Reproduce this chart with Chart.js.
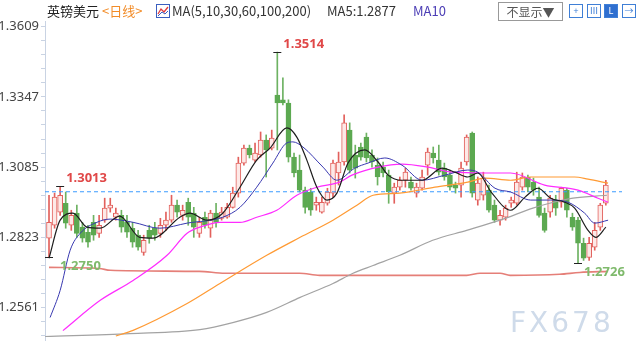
<!DOCTYPE html>
<html>
<head>
<meta charset="utf-8">
<script src="https://cdn.jsdelivr.net/npm/chart.js@4.4.1/dist/chart.umd.min.js"></script>
<style>
  body { margin: 0; background: #fff; }
  #wrap { position: relative; width: 640px; height: 360px; overflow: hidden; font-family: "Noto Sans CJK SC", "Noto Sans", sans-serif; }
  #c { position: absolute; left: 0; top: 0; }
  .t { position: absolute; top: 3px; font-size: 13px; white-space: nowrap; line-height: 16px; }
  .btn { position: absolute; top: 4px; width: 12px; height: 12px; border: 1px solid #3f7fd6; color: #3f7fd6; font-size: 9px; line-height: 12px; text-align: center; }
  #sel { position: absolute; left: 498px; top: 2px; width: 63px; height: 17px; border: 1px solid #999; font-size: 12px; line-height: 17px; color: #555; text-align: center; }
  #wm { position: absolute; left: 510px; top: 306px; font-family: "DejaVu Sans", sans-serif; font-size: 28px; letter-spacing: 3px; color: #cfdbea; }
</style>
</head>
<body>
<div id="wrap">
  <canvas id="c" width="640" height="360"></canvas>
  <div class="t" style="left:47px;color:#222">英镑美元</div>
  <div class="t" style="left:102px;color:#f28c28">&lt;日线&gt;</div>
  <svg style="position:absolute;left:156px;top:4px" width="14" height="14"><rect x="0.5" y="0.5" width="13" height="13" fill="#fff" stroke="#3b5fc0"/><polyline points="2,10 5,5 8,8 12,3" fill="none" stroke="#e23b3b" stroke-width="1.3"/><polyline points="2,12 6,8 9,10 12,7" fill="none" stroke="#3b5fc0" stroke-width="1"/></svg>
  <div class="t" style="left:172px;color:#333">MA(5,10,30,60,100,200)</div>
  <div class="t" style="left:327px;color:#333">MA5:1.2877</div>
  <div class="t" style="left:413px;color:#4b3db5">MA10</div>
  <div id="sel">不显示▼</div>
  <div class="btn" style="left:569px">+</div>
  <div class="btn" style="left:587px">Ⅲ</div>
  <div class="btn" style="left:604px;background:#2f6fd0;color:#fff">L</div>
  <div class="btn" style="left:622px">→</div>
  <div id="wm">FX678</div>
</div>
<script>
// daily candles, GBP/USD
const openVals = [1.2820,1.2868,1.2917,1.2950,1.2868,1.2913,1.2861,1.2842,1.2879,1.2838,
  1.2887,1.2932,1.2898,1.2905,1.2879,1.2857,1.2831,1.2767,1.2849,1.2857,
  1.2838,1.2868,1.2887,1.2943,1.2905,1.2954,1.2913,1.2838,1.2898,1.2857,
  1.2913,1.2894,1.2898,1.2935,1.2988,1.3100,1.3156,1.3111,1.3130,1.3186,
  1.3156,1.3354,1.3336,1.3324,1.3122,1.3074,1.2999,1.2992,1.2943,1.2917,
  1.2950,1.2988,1.3063,1.3104,1.3223,1.3130,1.3160,1.3197,1.3130,1.3092,
  1.3085,1.3055,1.2988,1.3010,1.3036,1.3029,1.2988,1.3006,1.3092,1.3137,
  1.3111,1.3081,1.3055,1.3018,1.3018,1.3104,1.3212,1.2962,1.2980,1.2999,
  1.2943,1.2887,1.2898,1.2950,1.2950,1.3010,1.3048,1.3029,1.2973,1.2913,
  1.2917,1.2962,1.2954,1.2999,1.2898,1.2887,1.2801,1.2748,1.2786,1.2861,
  1.2950];
const highVals = [1.2980,1.2988,1.3013,1.2992,1.2924,1.2943,1.2879,1.2868,1.2905,1.2905,
  1.2969,1.2969,1.2932,1.2924,1.2905,1.2879,1.2849,1.2831,1.2868,1.2879,
  1.2894,1.2917,1.2980,1.2962,1.2943,1.2969,1.2935,1.2898,1.2917,1.2924,
  1.2950,1.2935,1.2950,1.3010,1.3122,1.3167,1.3167,1.3175,1.3216,1.3205,
  1.3223,1.3514,1.3418,1.3336,1.3137,1.3130,1.3010,1.3006,1.2973,1.2973,
  1.3006,1.3111,1.3141,1.3280,1.3250,1.3167,1.3175,1.3212,1.3149,1.3119,
  1.3104,1.3074,1.3025,1.3048,1.3081,1.3048,1.3025,1.3074,1.3156,1.3160,
  1.3167,1.3100,1.3074,1.3029,1.3104,1.3205,1.3216,1.3048,1.3066,1.3018,
  1.2962,1.2924,1.2943,1.2973,1.3066,1.3063,1.3055,1.3044,1.3010,1.2932,
  1.2980,1.2980,1.3010,1.3006,1.2913,1.2898,1.2820,1.2823,1.2879,1.2950,
  1.3036];
const lowVals = [1.2750,1.2857,1.2905,1.2857,1.2849,1.2823,1.2805,1.2786,1.2812,1.2823,
  1.2879,1.2917,1.2887,1.2842,1.2823,1.2786,1.2775,1.2756,1.2801,1.2812,
  1.2823,1.2849,1.2879,1.2898,1.2887,1.2868,1.2823,1.2823,1.2857,1.2823,
  1.2861,1.2887,1.2894,1.2932,1.2973,1.3092,1.3119,1.3104,1.3122,1.3048,
  1.3149,1.3149,1.3317,1.3104,1.3048,1.2992,1.2913,1.2905,1.2924,1.2913,
  1.2943,1.2973,1.3018,1.3092,1.3063,1.3044,1.3111,1.3104,1.3085,1.3018,
  1.3048,1.2950,1.2950,1.2999,1.3010,1.2999,1.2973,1.2999,1.3055,1.3100,
  1.3055,1.3036,1.2999,1.2988,1.2973,1.3092,1.2973,1.2943,1.2962,1.2917,
  1.2879,1.2868,1.2887,1.2935,1.2943,1.2999,1.2992,1.2980,1.2898,1.2842,
  1.2898,1.2905,1.2935,1.2898,1.2849,1.2726,1.2737,1.2737,1.2775,1.2849,
  1.2943];
const closeVals = [1.2879,1.2973,1.2980,1.2876,1.2905,1.2838,1.2820,1.2805,1.2831,1.2868,
  1.2932,1.2943,1.2913,1.2861,1.2842,1.2805,1.2786,1.2812,1.2820,1.2831,
  1.2868,1.2887,1.2943,1.2917,1.2924,1.2898,1.2861,1.2879,1.2868,1.2913,
  1.2879,1.2917,1.2935,1.2988,1.3100,1.3156,1.3130,1.3137,1.3186,1.3149,
  1.3193,1.3324,1.3324,1.3122,1.3063,1.2999,1.2935,1.2924,1.2954,1.2954,
  1.2992,1.3100,1.3104,1.3250,1.3074,1.3081,1.3122,1.3119,1.3104,1.3048,
  1.3063,1.2992,1.3010,1.3036,1.3066,1.3006,1.3010,1.3048,1.3141,1.3119,
  1.3066,1.3048,1.3010,1.3006,1.3081,1.3197,1.2988,1.3025,1.3044,1.2924,
  1.2887,1.2905,1.2932,1.2962,1.3029,1.3048,1.3010,1.2999,1.2905,1.2849,
  1.2969,1.2932,1.3006,1.2924,1.2861,1.2801,1.2745,1.2801,1.2849,1.2943,
  1.3018];

// moving averages: [candle index, value]
const ma5 = [[0,1.2745],[2,1.2887],[4.3,1.2913],[6.8,1.2861],[9.2,1.2857],[12.7,1.2902],[16.3,1.2823],
  [18.7,1.2820],[23.5,1.2898],[25.3,1.2913],[28.4,1.2887],[31.2,1.2913],[34.3,1.3010],[37.3,1.3111],
  [39.7,1.3156],[42.7,1.3231],[44.5,1.3197],[46.3,1.3111],[48.1,1.3010],[49.9,1.2962],[51.7,1.2988],
  [53.7,1.3100],[56.7,1.3149],[59.1,1.3104],[60.9,1.3055],[63.4,1.3036],[67,1.3036],[70.6,1.3081],
  [72.9,1.3066],[75.2,1.3048],[77,1.3063],[79.4,1.2992],[82.9,1.2924],[85.5,1.2973],[87.8,1.3006],
  [90.1,1.2969],[92.6,1.2954],[94.4,1.2932],[96.8,1.2849],[98.2,1.2823],[100,1.2861]];
const ma10 = [[0.2,1.2524],[2,1.2625],[3.8,1.2775],[5.6,1.2838],[8.6,1.2879],[11,1.2891],[15.1,1.2879],
  [19.9,1.2857],[24.8,1.2876],[31.2,1.2898],[34.3,1.2935],[37.3,1.3010],[40.2,1.3100],[42.7,1.3175],
  [43.8,1.3179],[45.6,1.3160],[49.2,1.3085],[51.7,1.3036],[54.9,1.3081],[57.3,1.3100],[60.3,1.3119],
  [63.4,1.3092],[67,1.3036],[71.1,1.3055],[75.2,1.3074],[77,1.3066],[80.1,1.3006],[82.9,1.2992],
  [86.5,1.2962],[90.1,1.2962],[93.2,1.2954],[96.2,1.2913],[98,1.2876],[100.4,1.2887]];
const ma30 = [[2.5,1.2475],[9.2,1.2588],[15.1,1.2662],[21.2,1.2756],[24.8,1.2838],[27.1,1.2861],
  [30.7,1.2879],[34.3,1.2879],[37.3,1.2898],[40.9,1.2924],[44.5,1.2980],[48.1,1.3010],[52.2,1.3029],
  [54.4,1.3055],[59.1,1.3085],[63.4,1.3096],[68,1.3085],[72.4,1.3066],[78.3,1.3063],[82.9,1.3063],
  [89,1.3018],[95,1.2999],[98.6,1.2969],[100.4,1.2954]];
const ma60 = [[12,1.2455],[15.1,1.2476],[24.8,1.2576],[30.7,1.2651],[39.1,1.2756],[45.1,1.2823],
  [51,1.2887],[55.3,1.2943],[58.2,1.2980],[63,1.2988],[69.3,1.3010],[75.2,1.3029],[78.3,1.3044],
  [82.9,1.3036],[86.5,1.3048],[94.4,1.3048],[96.8,1.3040],[100.4,1.3025]];
const ma100 = [[-0.7,1.2453],[14.5,1.2464],[27.1,1.2479],[33,1.2505],[39.1,1.2543],[45.1,1.2599],
  [51,1.2651],[54.6,1.2689],[58.2,1.2718],[63,1.2756],[68.9,1.2812],[75,1.2849],[81,1.2887],
  [86.9,1.2932],[89.9,1.2950],[94.1,1.2969],[100.2,1.2980]];
const ma200 = [[0,1.2711],[9,1.2707],[11,1.2700],[27,1.2696],[31.6,1.2689],[45,1.2689],[48.6,1.2681],
  [75,1.2681],[77.4,1.2689],[81,1.2689],[82.8,1.2681],[91.7,1.2685],[95.3,1.2692],[100.4,1.2696]];

const lastPrice = 1.2993;
const yTicks = [1.2561, 1.2823, 1.3085, 1.3347, 1.3609];
// [index, value, text, kind]
const marks = [[2,1.3013,'1.3013','high'],[41,1.3514,'1.3514','high'],[0,1.2750,'1.2750','low'],[95,1.2726,'1.2726','low']];

const UP = '#e2605c', DOWN = '#5ca951';
const isUp = closeVals.map((c, i) => c >= openVals[i]);

// minor tick marks between the labelled ones
const step = (yTicks[1] - yTicks[0]) / 5;
const allTicks = [];
for (let v = yTicks[0] - 2 * step; v < 1.3630; v += step) allTicks.push(v);

function line(pts, color, w) {
  return {
    type: 'line',
    data: pts.map(p => ({ x: p[0], y: p[1] })),
    borderColor: color, borderWidth: w,
    pointRadius: 0, cubicInterpolationMode: 'monotone',
    order: 0
  };
}

const markPlugin = {
  id: 'marks',
  afterDatasetsDraw(chart) {
    const { ctx, scales: { x, y } } = chart;
    ctx.save();
    marks.forEach(m => {
      const px = x.getPixelForValue(m[0]);
      const py = y.getPixelForValue(m[1]);
      ctx.strokeStyle = '#222';
      ctx.lineWidth = 1;
      ctx.beginPath();
      ctx.moveTo(px - 4, Math.round(py) + 0.5);
      ctx.lineTo(px + 4, Math.round(py) + 0.5);
      ctx.stroke();
      ctx.font = 'bold 13px "Noto Sans", sans-serif';
      ctx.textBaseline = 'middle';
      if (m[3] === 'high') {
        ctx.fillStyle = '#e04848';
        ctx.fillText(m[2], px + 6, py - 8);
      } else {
        ctx.fillStyle = '#7fba6c';
        ctx.fillText(m[2], px + (m[0] === 0 ? 11 : 6), py + 9);
      }
    });
    ctx.restore();
  }
};

new Chart(document.getElementById('c'), {
  type: 'bar',
  data: {
    datasets: [
      line(ma5, '#1e1e1e', 1.2),
      line(ma10, '#3838b0', 1),
      line(ma30, '#ff2cff', 1.2),
      line(ma60, '#ff9a33', 1.2),
      line(ma100, '#a3a3a3', 1.2),
      line(ma200, '#e57f78', 1.6),
      {
        type: 'line',
        data: [{ x: -0.72, y: lastPrice }, { x: 102.9, y: lastPrice }],
        borderColor: '#3b9bff', borderWidth: 1, borderDash: [4, 3],
        pointRadius: 0, order: 0
      },
      {
        data: openVals.map((o, i) => ({ x: i, y: [o, closeVals[i]] })),
        backgroundColor: isUp.map(u => u ? '#fde9e7' : DOWN),
        borderColor: isUp.map(u => u ? UP : DOWN),
        borderWidth: 1, borderSkipped: false,
        barThickness: 5, grouped: false, order: 1
      },
      {
        data: lowVals.map((l, i) => ({ x: i, y: [l, highVals[i]] })),
        backgroundColor: isUp.map(u => u ? UP : '#6db262'),
        borderWidth: 0,
        barThickness: 1, grouped: false, order: 2
      }
    ]
  },
  options: {
    responsive: false,
    animation: false,
    layout: { padding: { top: 21, bottom: 20, left: 0, right: 18 } },
    plugins: { legend: { display: false }, tooltip: { enabled: false } },
    scales: {
      x: { type: 'linear', min: -0.72, max: 102.9, offset: false, display: false },
      y: {
        min: 1.2440, max: 1.3630,
        afterFit(s) { s.width = 45; },
        afterBuildTicks(s) { s.ticks = allTicks.map(v => ({ value: v })); },
        ticks: {
          autoSkip: false,
          callback: (v, i) => (i - 2) % 5 === 0 ? v.toFixed(4) : '',
          color: '#444',
          font: { size: 13, family: '"Noto Sans", sans-serif' },
          padding: 2
        },
        grid: { drawOnChartArea: false, tickLength: 4, color: '#c9d3e3' },
        border: { color: '#c9d3e3' }
      }
    }
  },
  plugins: [markPlugin]
});
</script>
</body>
</html>
